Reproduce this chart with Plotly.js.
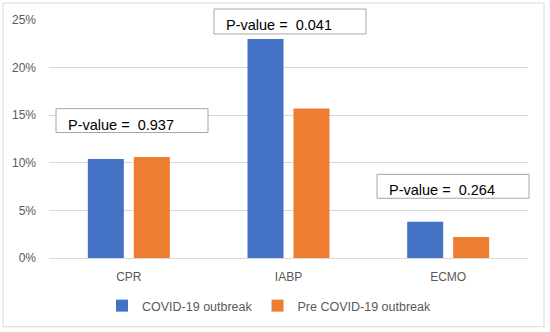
<!DOCTYPE html>
<html>
<head>
<meta charset="utf-8">
<script src="https://cdn.plot.ly/plotly-3.0.1.min.js"></script>
<style>html,body{margin:0;padding:0;background:#fff;}#chart{width:550px;height:332px;}</style>
</head>
<body>
<div id="chart"></div>
<script>
const categories = ['CPR', 'IABP', 'ECMO'];
const seriesNames = ['COVID-19 outbreak', 'Pre COVID-19 outbreak'];
const covidValues = [10.4, 23.0, 3.8];
const preCovidValues = [10.6, 15.7, 2.2];
const pValues = ['0.937', '0.041', '0.264'];
const yTickValues = [0, 5, 10, 15, 20, 25];
const yTickLabels = ['0%', '5%', '10%', '15%', '20%', '25%'];

// plot area in pixels
const L = 49, R = 528, T = 20, B = 259;
const px = x => (x - L) / (R - L);
const py = y => (B - y) / (B - T);
const FONT = 'Liberation Sans, Arial, sans-serif';

const traces = [
  {type: 'bar', name: seriesNames[0], x: categories, y: covidValues, marker: {color: '#4472C4'}, hoverinfo: 'skip'},
  {type: 'bar', name: seriesNames[1], x: categories, y: preCovidValues, marker: {color: '#ED7D31'}, hoverinfo: 'skip'}
];

// boxes: [left, top, right, bottom] in px
const boxes = [[56, 109, 208, 133], [214, 9, 366, 34], [377, 175, 529, 199]];
const shapes = boxes.map(b => ({
  type: 'rect', xref: 'paper', yref: 'paper',
  x0: px(b[0]), x1: px(b[2]), y0: py(b[3]), y1: py(b[1]),
  line: {color: '#a6a6a6', width: 1}, fillcolor: '#ffffff', layer: 'above'
}));
shapes.push({
  type: 'rect', xref: 'paper', yref: 'paper',
  x0: px(3), x1: px(544), y0: py(328), y1: py(3),
  line: {color: '#d9d9d9', width: 1}, fillcolor: 'rgba(0,0,0,0)', layer: 'below'
});

const annotations = boxes.map((b, i) => ({
  xref: 'paper', yref: 'paper', x: px(b[0] + 10), y: py((b[1] + b[3]) / 2 + 4),
  xanchor: 'left', yanchor: 'middle', showarrow: false,
  text: 'P-value =\u00a0\u00a0' + pValues[i],
  font: {family: FONT, size: 14.5, color: '#000000'}
}));

const layout = {
  width: 550, height: 332,
  margin: {l: L, r: 550 - R, t: T, b: 332 - B},
  paper_bgcolor: '#ffffff', plot_bgcolor: '#ffffff',
  font: {family: FONT, color: '#595959'},
  barmode: 'group', bargap: 0.424, bargroupgap: 0.217,
  xaxis: {type: 'category', tickfont: {size: 12, color: '#595959'}, showgrid: false, zeroline: false, showline: false, ticks: '', ticklabelstandoff: 10},
  yaxis: {range: [0, 25], tickmode: 'array', tickvals: yTickValues, ticktext: yTickLabels, tickfont: {size: 12, color: '#595959'},
          showgrid: true, gridcolor: '#d9d9d9', gridwidth: 1, zeroline: true, zerolinecolor: '#d9d9d9', zerolinewidth: 1, showline: false, ticks: '', ticklabelstandoff: 12},
  legend: {orientation: 'h', x: px(269), xanchor: 'center', y: py(306), yanchor: 'middle',
           font: {size: 12.5, color: '#595959'}, itemwidth: 30, traceorder: 'normal'},
  shapes: shapes,
  annotations: annotations,
  showlegend: true
};

Plotly.newPlot('chart', traces, layout, {displayModeBar: false, staticPlot: true});
</script>
</body>
</html>
